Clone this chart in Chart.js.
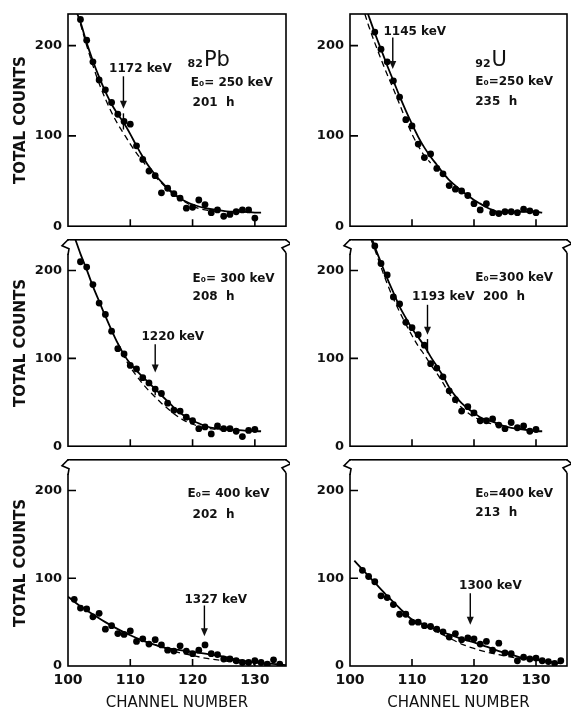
<!DOCTYPE html>
<html>
<head>
<meta charset="utf-8">
<script src="https://cdn.jsdelivr.net/npm/chart.js@4.4.1/dist/chart.umd.min.js"></script>
<style>
  html, body { margin: 0; padding: 0; background: #fff; }
  body { width: 571px; height: 712px; position: relative; overflow: hidden; }
  canvas { position: absolute; }
</style>
</head>
<body>
<canvas id="pb250" width="290" height="240" style="left:0;top:0"></canvas>
<canvas id="u250" width="281" height="240" style="left:290px;top:0"></canvas>
<canvas id="pb300" width="290" height="234" style="left:0;top:226px"></canvas>
<canvas id="u300" width="281" height="234" style="left:290px;top:226px"></canvas>
<canvas id="pb400" width="290" height="266" style="left:0;top:446px"></canvas>
<canvas id="u400" width="281" height="266" style="left:290px;top:446px"></canvas>
<script>
// tick values
var xTicks = [110, 120, 130];
var yTicks = [100, 200];

// Pb, E0 = 250 keV
var pb250Ch = [102,103,104,105,106,107,108,109,110,111,112,113,114,115,116,117,118,119,120,121,122,123,124,125,126,127,128,129,130];
var pb250Counts = [229,206,182,162,151,137,124,116,113,89,74,61,56,37,42,36,31,20,21,29,24,15,18,11,13,16,18,18,9];
var pb250FitCh = [101.5,102,103,104,105,106,107,108,109,110,111,112,113,114,115,116,117,118,119,120,122,124,126,128,130,131];
var pb250Fit = [235,226,203,183,165,149,135,124,114,102,89,77,66,57,49,42,36,31,27,24,20,18,16,16,15,15];
var pb250BgCh = [102,103,104,105,106,107,108,109,110,111,112,113,114,115,116,117,118,119,120,122,124];
var pb250Bg = [224,200,178,158,141,126,113,102,91,81,72,63,55,48,41,35,30,26,22,18,16];

// U, E0 = 250 keV
var u250Ch = [104,105,106,107,108,109,110,111,112,113,114,115,116,117,118,119,120,121,122,123,124,125,126,127,128,129,130];
var u250Counts = [215,196,182,161,143,118,111,91,76,80,64,58,45,41,39,34,25,18,25,15,14,16,16,15,19,17,15];
var u250FitCh = [102.9,104,105,106,107,108,109,110,111,112,113,114,115,116,117,118,119,120,121,122,123,124,126,128,130,131];
var u250Fit = [235,214,196,178,161,144,128,113,99,87,77,68,59,51,45,39,34,29,25,21,18,16,16,16,16,15];
var u250BgCh = [102.4,103,104,105,106,107,108,109,110,111,112,113];
var u250Bg = [235,222,203,185,168,152,135,118,102,89,78,70];

// Pb, E0 = 300 keV
var pb300Ch = [102,103,104,105,106,107,108,109,110,111,112,113,114,115,116,117,118,119,120,121,122,123,124,125,126,127,128,129,130];
var pb300Counts = [210,204,184,163,150,131,111,105,92,88,78,72,65,60,49,41,40,33,29,20,22,14,23,20,20,17,11,18,19];
var pb300FitCh = [101.2,102,103,104,105,106,107,108,109,110,111,112,113,114,115,116,117,118,119,120,121,122,124,126,128,131];
var pb300Fit = [235,219,201,182,165,148,132,117,104,94,86,79,72,65,58,51,44,38,33,29,26,23,20,19,18,17];
var pb300BgCh = [108,109,110,111,112,113,114,115,116,117,118,119,120,122,124,126];
var pb300Bg = [117,102,90,80,71,63,56,49,43,37,32,28,25,21,19,18];

// U, E0 = 300 keV
var u300Ch = [104,105,106,107,108,109,110,111,112,113,114,115,116,117,118,119,120,121,122,123,124,125,126,127,128,129,130];
var u300Counts = [228,208,195,170,162,141,135,127,115,94,89,79,63,53,40,45,38,29,29,31,24,20,27,21,23,17,19];
var u300FitCh = [103.6,104,105,106,107,108,109,110,111,112,113,114,115,116,117,118,119,120,121,122,123,124,126,128,130,131];
var u300Fit = [235,227,209,191,175,159,146,134,124,114,102,91,80,67,57,49,43,38,33,30,28,25,21,19,17,17];
var u300BgCh = [103.4,104,105,106,107,108,109,110,111,112,113,114,115,116,117,118,119,120,121,122,124];
var u300Bg = [235,224,204,185,168,153,139,126,114,104,93,83,72,60,51,44,38,33,30,27,24];

// Pb, E0 = 400 keV
var pb400Ch = [101,102,103,104,105,106,107,108,109,110,111,112,113,114,115,116,117,118,119,120,121,122,123,124,125,126,127,128,129,130,131,132,133,134];
var pb400Counts = [76,66,65,56,60,42,46,37,36,40,28,31,25,30,24,18,17,23,17,14,18,24,14,13,8,8,6,4,4,6,4,2,7,2];
var pb400FitCh = [100,102,104,106,108,110,112,114,116,118,120,122,124,126,128,130,132,135];
var pb400Fit = [79,68,59,50,42,35,29,24,20,18,16,14,12,9,6,4,3,1];
var pb400BgCh = [114,116,118,120,122,124,126,128,130];
var pb400Bg = [24,19,15,12,9,7,5,3,2];

// U, E0 = 400 keV
var u400Ch = [102,103,104,105,106,107,108,109,110,111,112,113,114,115,116,117,118,119,120,121,122,123,124,125,126,127,128,129,130,131,132,133,134];
var u400Counts = [109,102,96,80,78,70,59,59,50,50,46,45,42,39,33,37,30,32,31,25,28,18,26,15,14,6,10,8,9,6,5,3,6];
var u400FitCh = [100.7,102,104,106,108,110,112,114,116,118,120,122,124,126,128,130,132,134];
var u400Fit = [120,110,95,80,66,53,47,41,36,31,27,22,17,13,9,7,5,3];
var u400BgCh = [112,114,116,118,120,122,124,126,128];
var u400Bg = [46,39,32,25,20,16,13,10,8];

var FONT = '"DejaVu Sans", sans-serif';

function pts(xs, ys) {
  return xs.map(function (x, i) { return { x: x, y: ys[i] }; });
}

// frame, inward ticks, axis breaks and annotations
var framePlugin = {
  id: 'frame',
  afterDraw: function (chart, args, opts) {
    var ctx = chart.ctx, a = chart.chartArea;
    var x = chart.scales.x, y = chart.scales.y;
    ctx.save();
    ctx.strokeStyle = '#000';
    ctx.fillStyle = '#000';
    ctx.lineWidth = 1.6;
    ctx.strokeRect(a.left, a.top, a.right - a.left, a.bottom - a.top);

    ctx.beginPath();
    xTicks.forEach(function (v) {
      var px = x.getPixelForValue(v);
      ctx.moveTo(px, a.bottom);
      ctx.lineTo(px, a.bottom - 7);
    });
    yTicks.forEach(function (v) {
      var py = y.getPixelForValue(v);
      ctx.moveTo(a.left, py);
      ctx.lineTo(a.left + 8, py);
    });
    ctx.stroke();

    if (opts.breakTop) {
      ctx.fillStyle = '#fff';
      ctx.fillRect(a.left - 2, a.top + 1, 4, 13);
      ctx.fillRect(a.right - 2, a.top + 1, 4, 12);
      ctx.fillStyle = '#000';
      ctx.beginPath();
      ctx.moveTo(a.left, a.top);
      ctx.lineTo(a.left - 6, a.top + 6);
      ctx.lineTo(a.left + 1, a.top + 9);
      ctx.lineTo(a.left, a.top + 15);
      ctx.moveTo(a.right, a.top);
      ctx.lineTo(a.right + 5, a.top + 4);
      ctx.lineTo(a.right - 4, a.top + 8);
      ctx.lineTo(a.right, a.top + 13);
      ctx.stroke();
    }

    ctx.fillStyle = '#111';
    ctx.textAlign = 'left';
    if (opts.iso) {
      var ix = x.getPixelForValue(opts.iso.ch), iy = y.getPixelForValue(opts.iso.v);
      ctx.textBaseline = 'alphabetic';
      ctx.font = 'bold 11px ' + FONT;
      ctx.fillText(opts.iso.sup, ix, iy + 1);
      var w = ctx.measureText(opts.iso.sup).width;
      ctx.font = '21px ' + FONT;
      ctx.fillText(opts.iso.main, ix + w + 1, iy);
    }
    ctx.textBaseline = 'middle';
    ctx.font = 'bold 12px ' + FONT;
    opts.labels.forEach(function (l) {
      ctx.fillText(l.text, x.getPixelForValue(l.ch), y.getPixelForValue(l.v));
    });

    var ar = opts.arrow;
    var ax = x.getPixelForValue(ar.ch);
    var y1 = y.getPixelForValue(ar.from), y2 = y.getPixelForValue(ar.to);
    ctx.lineWidth = 1.4;
    ctx.beginPath();
    ctx.moveTo(ax, y1);
    ctx.lineTo(ax, y2 - 6);
    ctx.stroke();
    ctx.beginPath();
    ctx.moveTo(ax - 3.5, y2 - 8);
    ctx.lineTo(ax + 3.5, y2 - 8);
    ctx.lineTo(ax, y2);
    ctx.closePath();
    ctx.fill();
    if (ar.tick) {
      ctx.beginPath();
      ctx.moveTo(ax, y.getPixelForValue(ar.tick[0]));
      ctx.lineTo(ax, y.getPixelForValue(ar.tick[1]));
      ctx.stroke();
    }
    ctx.restore();
  }
};

function makePanel(id, p) {
  new Chart(id, {
    type: 'scatter',
    data: {
      datasets: [
        {
          data: pts(p.ch, p.counts),
          pointRadius: 3.4,
          pointBackgroundColor: '#000',
          pointBorderWidth: 0
        },
        {
          data: pts(p.fitCh, p.fit),
          showLine: true,
          pointRadius: 0,
          borderColor: '#000',
          borderWidth: 1.8,
          cubicInterpolationMode: 'monotone'
        },
        {
          data: pts(p.bgCh, p.bg),
          showLine: true,
          pointRadius: 0,
          borderColor: '#000',
          borderWidth: 1.3,
          borderDash: [6, 4],
          cubicInterpolationMode: 'monotone'
        }
      ]
    },
    options: {
      responsive: false,
      animation: false,
      events: [],
      layout: { padding: { top: p.padTop, right: p.padRight, bottom: p.padBottom, left: 0 } },
      plugins: {
        legend: { display: false },
        tooltip: { enabled: false },
        frame: p.notes
      },
      scales: {
        x: {
          type: 'linear',
          display: p.bottom,
          min: 100,
          max: 135,
          grid: { display: false, drawTicks: false },
          border: { display: false },
          ticks: {
            stepSize: 10,
            includeBounds: false,
            padding: 6,
            color: '#111',
            font: { family: FONT, weight: 'bold', size: 14 }
          },
          title: {
            display: true,
            text: 'CHANNEL NUMBER',
            color: '#111',
            padding: { top: 0, bottom: 0 },
            font: { family: FONT, size: 15 }
          },
          afterFit: function (s) { s.height = p.bottom ? 46 : 0; }
        },
        y: {
          min: 0,
          max: 235,
          grid: { display: false, drawTicks: false },
          border: { display: false },
          ticks: {
            stepSize: 100,
            includeBounds: false,
            padding: 6,
            color: '#111',
            font: { family: FONT, weight: 'bold', size: 13 }
          },
          title: {
            display: p.left,
            text: 'TOTAL COUNTS',
            color: '#111',
            padding: { top: 12, bottom: 0 },
            font: { family: FONT, weight: 'bold', size: 15 }
          },
          afterFit: function (s) { s.width = p.left ? 68 : 60; }
        }
      }
    },
    plugins: [framePlugin]
  });
}

makePanel('pb250', {
  ch: pb250Ch, counts: pb250Counts, fitCh: pb250FitCh, fit: pb250Fit, bgCh: pb250BgCh, bg: pb250Bg,
  left: true, bottom: false, padTop: 14, padBottom: 9, padRight: 3,
  notes: {
    breakTop: false,
    iso: { sup: '82', main: 'Pb', ch: 119.2, v: 177 },
    labels: [
      { text: 'E\u2080= 250 keV', ch: 119.7, v: 159 },
      { text: '201  h', ch: 120, v: 137 },
      { text: '1172 keV', ch: 106.6, v: 174 }
    ],
    arrow: { ch: 108.9, from: 166, to: 130, tick: [125, 107] }
  }
});

makePanel('u250', {
  ch: u250Ch, counts: u250Counts, fitCh: u250FitCh, fit: u250Fit, bgCh: u250BgCh, bg: u250Bg,
  left: false, bottom: false, padTop: 14, padBottom: 9, padRight: 4,
  notes: {
    breakTop: false,
    iso: { sup: '92', main: 'U', ch: 120.2, v: 177 },
    labels: [
      { text: 'E\u2080=250 keV', ch: 120.2, v: 160 },
      { text: '235  h', ch: 120.2, v: 138 },
      { text: '1145 keV', ch: 105.4, v: 215 }
    ],
    arrow: { ch: 106.9, from: 209, to: 174 }
  }
});

makePanel('pb300', {
  ch: pb300Ch, counts: pb300Counts, fitCh: pb300FitCh, fit: pb300Fit, bgCh: pb300BgCh, bg: pb300Bg,
  left: true, bottom: false, padTop: 5, padBottom: 9, padRight: 3,
  notes: {
    breakTop: true,
    labels: [
      { text: 'E\u2080= 300 keV', ch: 120, v: 191 },
      { text: '208  h', ch: 120, v: 170 },
      { text: '1220 keV', ch: 111.8, v: 125 }
    ],
    arrow: { ch: 114, from: 116, to: 84, tick: [68, 58] }
  }
});

makePanel('u300', {
  ch: u300Ch, counts: u300Counts, fitCh: u300FitCh, fit: u300Fit, bgCh: u300BgCh, bg: u300Bg,
  left: false, bottom: false, padTop: 5, padBottom: 9, padRight: 4,
  notes: {
    breakTop: true,
    labels: [
      { text: 'E\u2080=300 keV', ch: 120.2, v: 192 },
      { text: '1193 keV  200  h', ch: 110, v: 170 }
    ],
    arrow: { ch: 112.5, from: 161, to: 127, tick: [122, 106] }
  }
});

makePanel('pb400', {
  ch: pb400Ch, counts: pb400Counts, fitCh: pb400FitCh, fit: pb400Fit, bgCh: pb400BgCh, bg: pb400Bg,
  left: true, bottom: true, padTop: 5, padBottom: 0, padRight: 3,
  notes: {
    breakTop: true,
    labels: [
      { text: 'E\u2080= 400 keV', ch: 119.2, v: 196 },
      { text: '202  h', ch: 120, v: 172 },
      { text: '1327 keV', ch: 118.7, v: 75 }
    ],
    arrow: { ch: 121.9, from: 69, to: 34 }
  }
});

makePanel('u400', {
  ch: u400Ch, counts: u400Counts, fitCh: u400FitCh, fit: u400Fit, bgCh: u400BgCh, bg: u400Bg,
  left: false, bottom: true, padTop: 5, padBottom: 0, padRight: 4,
  notes: {
    breakTop: true,
    labels: [
      { text: 'E\u2080=400 keV', ch: 120.2, v: 196 },
      { text: '213  h', ch: 120.2, v: 174 },
      { text: '1300 keV', ch: 117.6, v: 91 }
    ],
    arrow: { ch: 119.4, from: 83, to: 47 }
  }
});
</script>
</body>
</html>
